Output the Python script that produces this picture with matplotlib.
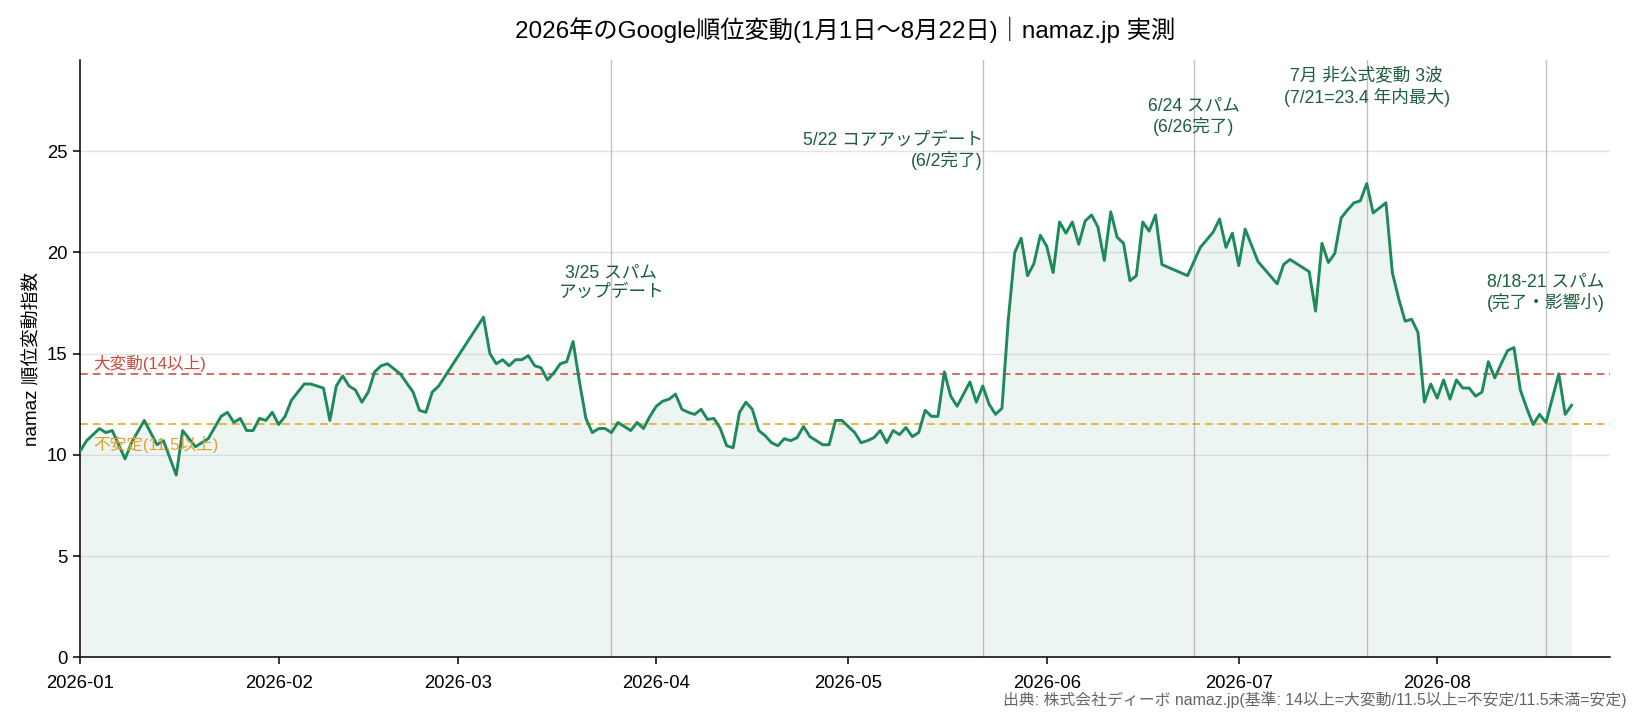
import matplotlib
matplotlib.use("Agg")
import matplotlib.pyplot as plt
import matplotlib.dates as mdates
import pandas as pd

plt.rcParams['font.family'] = ['Liberation Sans', 'Noto Sans CJK JP', 'DejaVu Sans']

YEAR = "2026"
dates_md = [
    "01-01", "01-02", "01-04", "01-05", "01-06", "01-08", "01-09", "01-11", "01-13", "01-14",
    "01-16", "01-17", "01-19", "01-21", "01-23", "01-24", "01-25", "01-26", "01-27", "01-28",
    "01-29", "01-30", "01-31", "02-01", "02-02", "02-03", "02-05", "02-06", "02-08", "02-09",
    "02-10", "02-11", "02-12", "02-13", "02-14", "02-15", "02-16", "02-17", "02-18", "02-20",
    "02-22", "02-23", "02-24", "02-25", "02-26", "03-05", "03-06", "03-07", "03-08", "03-09",
    "03-10", "03-11", "03-12", "03-13", "03-14", "03-15", "03-16", "03-17", "03-18", "03-19",
    "03-20", "03-21", "03-22", "03-23", "03-24", "03-25", "03-26", "03-27", "03-28", "03-29",
    "03-30", "03-31", "04-01", "04-02", "04-03", "04-04", "04-05", "04-06", "04-07", "04-08",
    "04-09", "04-10", "04-11", "04-12", "04-13", "04-14", "04-15", "04-16", "04-17", "04-18",
    "04-19", "04-20", "04-21", "04-22", "04-23", "04-24", "04-25", "04-26", "04-27", "04-28",
    "04-29", "04-30", "05-01", "05-02", "05-03", "05-04", "05-05", "05-06", "05-07", "05-08",
    "05-09", "05-10", "05-11", "05-12", "05-13", "05-14", "05-15", "05-16", "05-17", "05-18",
    "05-19", "05-20", "05-21", "05-22", "05-23", "05-24", "05-25", "05-26", "05-27", "05-28",
    "05-29", "05-30", "05-31", "06-01", "06-02", "06-03", "06-04", "06-05", "06-06", "06-07",
    "06-08", "06-09", "06-10", "06-11", "06-12", "06-13", "06-14", "06-15", "06-16", "06-17",
    "06-18", "06-19", "06-23", "06-25", "06-27", "06-28", "06-29", "06-30", "07-01", "07-02",
    "07-04", "07-07", "07-08", "07-09", "07-12", "07-13", "07-14", "07-15", "07-16", "07-17",
    "07-18", "07-19", "07-20", "07-21", "07-22", "07-24", "07-25", "07-26", "07-27", "07-28",
    "07-29", "07-30", "07-31", "08-01", "08-02", "08-03", "08-04", "08-05", "08-06", "08-07",
    "08-08", "08-09", "08-10", "08-11", "08-12", "08-13", "08-14", "08-15", "08-16", "08-17",
    "08-18", "08-20", "08-21", "08-22",
]
values = [
    10.2, 10.7, 11.3, 11.1, 11.2, 9.8, 10.6, 11.7, 10.5, 10.7,
    9.0, 11.2, 10.4, 10.8, 11.9, 12.1, 11.6, 11.8, 11.2, 11.2,
    11.8, 11.7, 12.1, 11.5, 11.9, 12.7, 13.5, 13.5, 13.3, 11.7,
    13.4, 13.9, 13.4, 13.2, 12.6, 13.1, 14.1, 14.4, 14.5, 14.0,
    13.1, 12.2, 12.1, 13.1, 13.4, 16.8, 15.0, 14.5, 14.7, 14.4,
    14.7, 14.7, 14.9, 14.4, 14.3, 13.7, 14.05, 14.5, 14.6, 15.6,
    13.6, 11.8, 11.1, 11.3, 11.3, 11.1, 11.6, 11.4, 11.2, 11.6,
    11.3, 11.9, 12.4, 12.65, 12.75, 13.0, 12.25, 12.1, 12.0, 12.25,
    11.75, 11.8, 11.3, 10.45, 10.35, 12.1, 12.6, 12.25, 11.2, 10.95,
    10.6, 10.45, 10.8, 10.7, 10.85, 11.4, 10.9, 10.7, 10.5, 10.5,
    11.7, 11.7, 11.4, 11.1, 10.6, 10.7, 10.85, 11.2, 10.6, 11.2,
    11.0, 11.35, 10.9, 11.1, 12.2, 11.9, 11.9, 14.1, 12.9, 12.4,
    13.0, 13.6, 12.6, 13.4, 12.5, 12.0, 12.3, 16.7, 20.0, 20.7,
    18.85, 19.45, 20.85, 20.3, 19.0, 21.5, 20.95, 21.5, 20.4, 21.55,
    21.85, 21.25, 19.6, 22.0, 20.75, 20.45, 18.6, 18.85, 21.5, 21.05,
    21.85, 19.4, 18.85, 20.25, 21.0, 21.65, 20.25, 20.95, 19.35, 21.15,
    19.55, 18.45, 19.4, 19.65, 19.05, 17.1, 20.45, 19.5, 19.95, 21.7,
    22.1, 22.45, 22.55, 23.4, 21.95, 22.45, 19.0, 17.7, 16.6, 16.7,
    16.05, 12.6, 13.5, 12.8, 13.7, 12.75, 13.7, 13.3, 13.3, 12.9,
    13.1, 14.6, 13.8, 14.5, 15.15, 15.3, 13.2, 12.3, 11.5, 12.0,
    11.6, 14.0, 12.0, 12.45,
]

event_dates = ["03-25", "05-22", "06-24", "07-21", "08-18"]
event_labels = [
    "3/25 スパム\nアップデート",
    "5/22 コアアップデート\n(6/2完了)",
    "6/24 スパム\n(6/26完了)",
    "7月 非公式変動 3波\n(7/21=23.4 年内最大)",
    "8/18-21 スパム\n(完了・影響小)",
]
event_label_y = [17.6, 24.05, 25.75, 27.2, 17.05]
event_label_ha = ["center", "right", "center", "center", "center"]

thr_big = 14.0
thr_unstable = 11.5
thr_big_label = "大変動(14以上)"
thr_unstable_label = "不安定(11.5以上)"

title = "2026年のGoogle順位変動(1月1日〜8月22日)｜namaz.jp 実測"
ylabel = "namaz 順位変動指数"
source = "出典: 株式会社ディーボ namaz.jp(基準: 14以上=大変動/11.5以上=不安定/11.5未満=安定)"

x = pd.to_datetime([f"{YEAR}-{d}" for d in dates_md])
ev = pd.to_datetime([f"{YEAR}-{d}" for d in event_dates])

LINE = "#1e8a5a"
TXT = "#1d5e3e"
RED = "#cf6f62"
ORANGE = "#e8b44a"

fig = plt.figure(figsize=(16.41, 7.23), dpi=100)
ax = fig.add_axes([0.0489, 0.0909, 0.9322, 0.826])

ax.fill_between(x, 0, values, color=LINE, alpha=0.08, linewidth=0)
ax.plot(x, values, color=LINE, lw=2.1, zorder=3)

ax.axhline(thr_big, color=RED, ls=(0, (4, 2.5)), lw=1.4, zorder=2)
ax.axhline(thr_unstable, color=ORANGE, ls=(0, (4, 2.5)), lw=1.4, zorder=2)

for d, lab, yy, ha in zip(ev, event_labels, event_label_y, event_label_ha):
    ax.axvline(d, color="#999999", lw=1.0, alpha=0.6, zorder=1)
    ax.text(d, yy, lab, ha=ha, va="bottom", fontsize=12.7, color=TXT,
            multialignment=ha)

lab_x = pd.Timestamp(f"{YEAR}-01-03")
ax.text(lab_x, thr_big + 0.1, thr_big_label, color="#c94a3c", fontsize=12,
        ha="left", va="bottom")
ax.text(lab_x, thr_unstable - 0.55, thr_unstable_label, color="#e0a030", fontsize=12,
        ha="left", va="top")

ax.set_xlim(pd.Timestamp(f"{YEAR}-01-01"), pd.Timestamp(f"{YEAR}-08-28"))
ax.set_ylim(0, 29.5)
ax.set_yticks([0, 5, 10, 15, 20, 25])
ax.xaxis.set_major_locator(mdates.MonthLocator())
ax.xaxis.set_major_formatter(mdates.DateFormatter("%Y-%m"))
ax.tick_params(labelsize=13.3, length=4.7, width=1.1, pad=4.5)
ax.tick_params(axis="x", pad=8)
ax.grid(axis="y", color="#e3e3e3", lw=1.0)
ax.set_axisbelow(True)
for s in ["top", "right"]:
    ax.spines[s].set_visible(False)
for s in ["left", "bottom"]:
    ax.spines[s].set_linewidth(1.1)

ax.set_ylabel(ylabel, fontsize=13.5)
ax.set_title(title, fontsize=17.5, pad=16)
fig.text(0.991, 0.032, source, ha="right", va="center", fontsize=11.4, color="#666666")

fig.savefig("out.png", dpi=100)
